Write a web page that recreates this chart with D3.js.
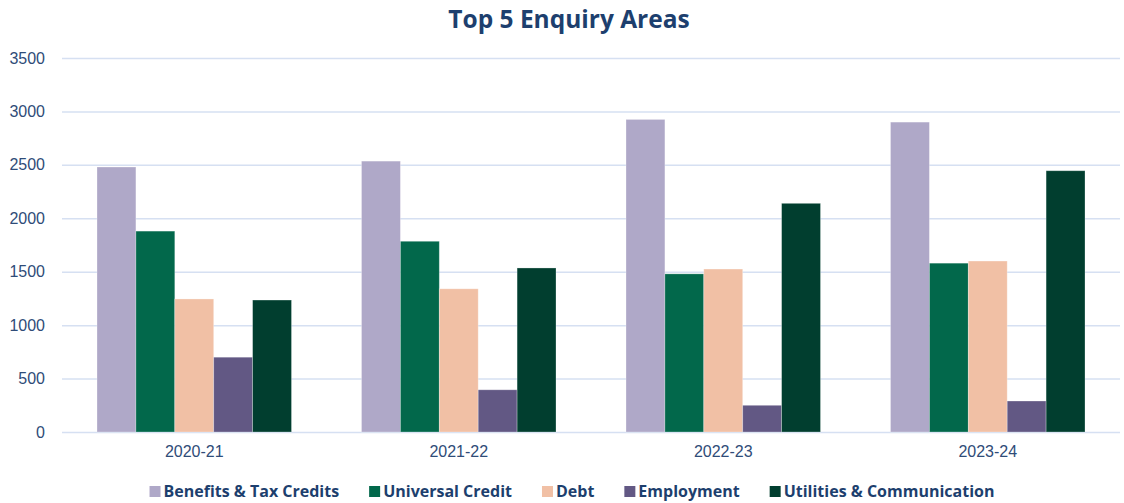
<!DOCTYPE html>
<html>
<head>
<meta charset="utf-8">
<script src="https://cdn.jsdelivr.net/npm/d3@7"></script>
<style>
  body { margin: 0; background: #fff; }
  svg { font-family: "Open Sans", "Noto Sans", sans-serif; }
</style>
</head>
<body>
<svg id="chart" width="1124" height="503"></svg>
<script>
const years = ["2020-21", "2021-22", "2022-23", "2023-24"];
const series_names = ["Benefits & Tax Credits", "Universal Credit", "Debt", "Employment", "Utilities & Communication"];
const benefits = [2480, 2535, 2925, 2900];
const universal_credit = [1880, 1785, 1480, 1580];
const debt = [1245, 1340, 1525, 1600];
const employment = [700, 395, 250, 290];
const utilities = [1235, 1535, 2140, 2445];
const y_ticks = [0, 500, 1000, 1500, 2000, 2500, 3000, 3500];

const series_values = [benefits, universal_credit, debt, employment, utilities];
const colours = ["#afa8c8", "#02684b", "#f1c0a5", "#625884", "#013e2f"];

const plot_left = 62;
const plot_right = 1120;
const plot_top = 58;
const plot_bottom = 432;

const svg = d3.select("#chart");

const x = d3.scaleBand().domain(years).range([plot_left, plot_right]).paddingInner(0).paddingOuter(0);
const x_inner = d3.scaleBand().domain(series_names).range([35, x.bandwidth() - 35]);
const y = d3.scaleLinear().domain([0, 3500]).range([plot_bottom, plot_top]);

// gridlines + y labels
const y_axis = svg.append("g")
  .attr("transform", `translate(${plot_left},0)`)
  .call(d3.axisLeft(y).tickValues(y_ticks).tickFormat(d3.format("d")).tickSize(-(plot_right - plot_left)).tickPadding(17));
y_axis.select(".domain").remove();
y_axis.selectAll(".tick line").attr("stroke", "#d6e0f2").attr("stroke-width", 1.5);
y_axis.selectAll(".tick text")
  .attr("fill", "#2f4c78")
  .attr("font-size", 16);

// bars
const rows = years.map((yr, i) => ({ year: yr, values: series_names.map((s, j) => ({ name: s, value: series_values[j][i], colour: colours[j] })) }));

const groups = svg.append("g")
  .selectAll("g")
  .data(rows)
  .join("g")
  .attr("transform", (d) => `translate(${x(d.year)},0)`);

groups.selectAll("rect")
  .data((d) => d.values)
  .join("rect")
  .attr("x", (d) => x_inner(d.name))
  .attr("width", x_inner.bandwidth())
  .attr("y", (d) => y(d.value))
  .attr("height", (d) => y(0) - y(d.value))
  .attr("fill", (d) => d.colour)
  .attr("stroke", "#ffffff")
  .attr("stroke-opacity", 0.35)
  .attr("stroke-width", 0.8);

// x labels
const x_axis = svg.append("g")
  .attr("transform", `translate(0,${plot_bottom})`)
  .call(d3.axisBottom(x).tickSize(0).tickPadding(14));
x_axis.select(".domain").remove();
x_axis.selectAll(".tick text")
  .attr("fill", "#2f4c78")
  .attr("font-size", 16);

// title
svg.append("text")
  .attr("x", 569)
  .attr("y", 28)
  .attr("text-anchor", "middle")
  .attr("font-size", 24.5)
  .attr("font-weight", "bold")
  .attr("fill", "#1d3f6e")
  .text("Top 5 Enquiry Areas");

// legend
const legend = svg.append("g");
const legend_items = legend.selectAll("g")
  .data(series_names)
  .join("g");
legend_items.append("rect")
  .attr("width", 11)
  .attr("height", 11)
  .attr("y", -11)
  .attr("fill", (d, i) => colours[i]);
legend_items.append("text")
  .attr("x", 14)
  .attr("y", 0)
  .attr("font-size", 16)
  .attr("font-weight", "bold")
  .attr("fill", "#1d3f6e")
  .text((d) => d);

let offset = 0;
const widths = [];
legend_items.each(function () {
  widths.push(d3.select(this).select("text").node().getComputedTextLength() + 14);
});
const gap = 30;
const total = d3.sum(widths) + gap * (widths.length - 1);
const start = 572 - total / 2;
legend_items.attr("transform", (d, i) => {
  const tx = start + offset;
  offset += widths[i] + gap;
  return `translate(${tx},497)`;
});
</script>
</body>
</html>
